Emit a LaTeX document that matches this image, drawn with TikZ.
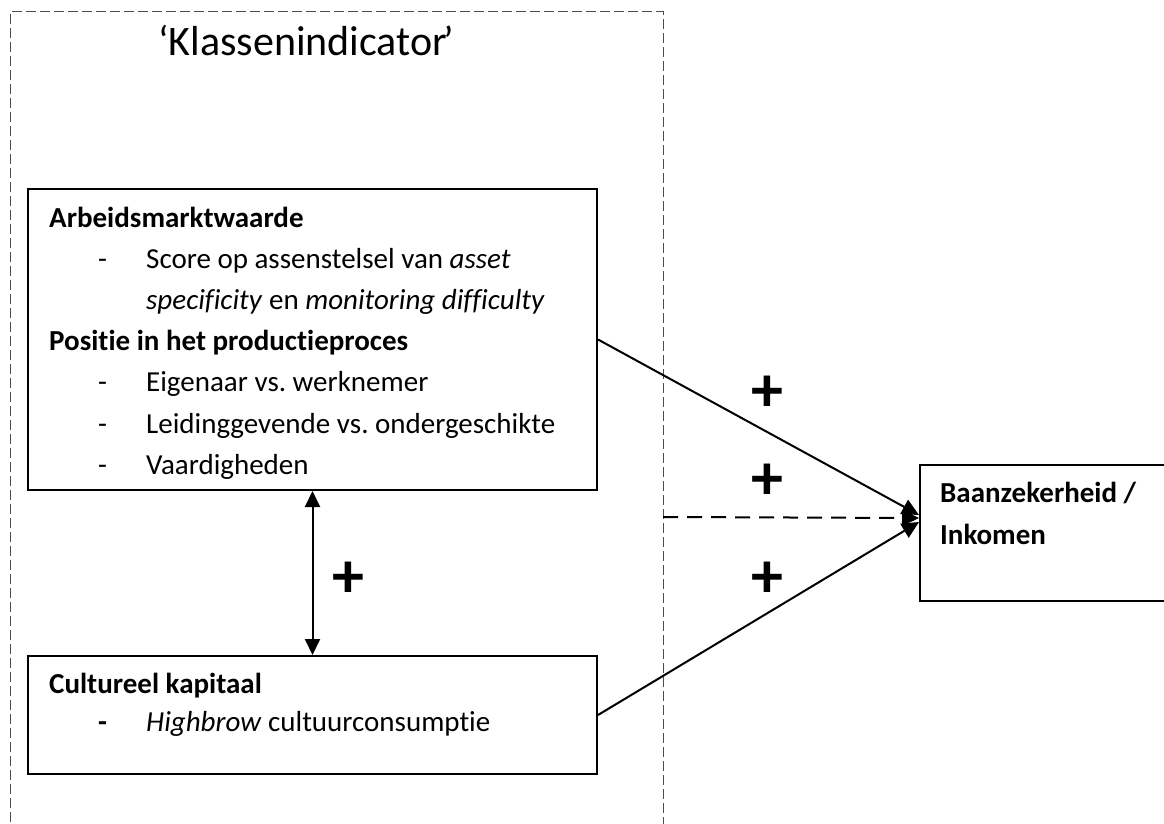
\documentclass[tikz,border=0pt]{standalone}
\usepackage{fontspec}
\setmainfont{Carlito}[Ligatures={NoCommon}, RawFeature={-liga;-dlig}]
\frenchspacing
\usetikzlibrary{arrows.meta}
\begin{document}
\begin{tikzpicture}[x=1pt,y=-1pt,
 box/.style={draw, line width=2pt, inner sep=0pt, rectangle},
 txt/.style={anchor=base west, inner sep=0pt, font=\fontsize{29}{35}\selectfont},
 btxt/.style={txt, font=\fontsize{29}{35}\selectfont\bfseries},
 plussign/.style={inner sep=0pt, font=\fontsize{64}{70}\selectfont\bfseries},
 arr/.style={line width=2pt, -{Triangle[length=17pt,width=16pt]}},
 frame/.style={line width=1pt, gray!60!black, dash pattern=on 10pt off 4pt},
]
\useasboundingbox (0,0) rectangle (1164,824);
\clip (0,0) rectangle (1164,824);
\fill[white] (0,0) rectangle (1164,824);
% dashed frame
\draw[frame] (10,850) -- (10,12) -- (663,12) -- (663,850);
\coordinate (dstart) at (663,517);
\node[anchor=base west, inner sep=0pt, font=\fontsize{42}{50}\selectfont] (title) at (158,56) {‘Klassenindicator\kern-4pt’};

% boxes
\node[box, minimum width=569pt, minimum height=301pt] (arb) at (312.5,339.5) {};
\node[box, minimum width=569pt, minimum height=118pt] (cul) at (312.5,715) {};
\node[box, minimum width=260pt, minimum height=136pt, anchor=north west] (baan) at (919,464) {};

% top box text
\node[btxt] (a1) at (49,227) {Arbeidsmarktwaarde};
\node[txt] (d1) at (98,268) {-};
\node[txt] (a2) at (146,268) {Score op assenstelsel van \textit{asset}};
\node[txt] (a3) at (146,309) {\textit{specificity} en \textit{monitoring difficulty}};
\node[btxt] (a4) at (49,350) {Positie in het productieproces};
\node[txt] (d2) at (98,391) {-};
\node[txt] (a5) at (146,391) {Eigenaar vs. werknemer};
\node[txt] (d3) at (98,433) {-};
\node[txt] (a6) at (146,433) {Leidinggevende vs. ondergeschikte};
\node[txt] (d4) at (98,474) {-};
\node[txt] (a7) at (146,474) {Vaardigheden};

% bottom box text
\node[btxt] (c1) at (49,693) {Cultureel kapitaal};
\node[btxt] (d5) at (98,731) {-};
\node[txt] (c2) at (146,731) {\textit{Highbrow} cultuurconsumptie};

% right box text
\node[btxt] (b1) at (940,502) {Baanzekerheid /};
\node[btxt] (b2) at (940,544) {Inkomen};

% connectors
\draw[arr] (arb.east) -- ([yshift=18pt]baan.west);
\draw[arr, dash pattern=on 15pt off 9pt] (dstart) -- ([yshift=15pt]baan.west);
\draw[arr] (cul.east) -- ([yshift=11pt]baan.west);
\draw[line width=2pt, {Triangle[length=16pt,width=15pt]}-{Triangle[length=16pt,width=15pt]}] (arb.south) -- (cul.north);

% plus signs
\node[plussign] (p1) at (767,394) {+};
\node[plussign] (p2) at (767,482) {+};
\node[plussign] (p3) at (767,580) {+};
\node[plussign] (p4) at (348,580) {+};
\end{tikzpicture}
\end{document}
